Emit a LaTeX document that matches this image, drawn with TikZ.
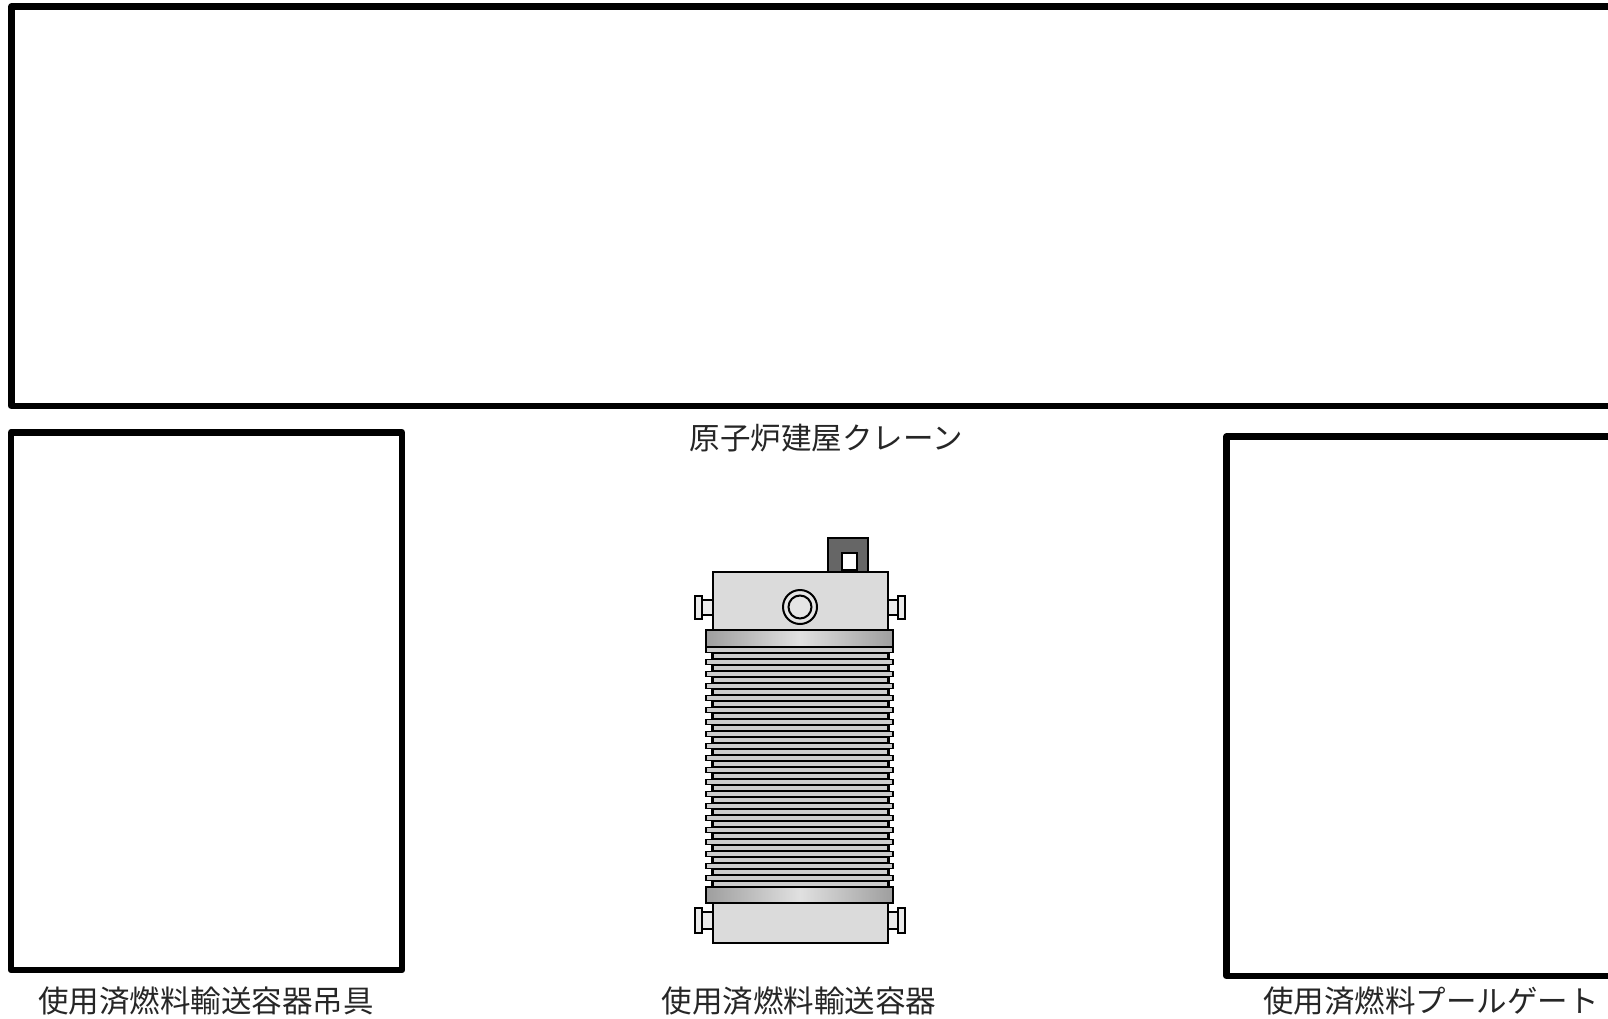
\documentclass[tikz,border=0pt]{standalone}
\usepackage{fontspec}
\setmainfont{Noto Sans CJK JP}
\begin{document}
\begin{tikzpicture}[x=1pt,y=-1pt,
  frame/.style={draw=black,line width=6.5pt,line join=round},
  label/.style={font=\fontsize{30.5}{34}\selectfont,text=black!85,inner sep=0pt},
  metal/.style={draw=black,line width=2.2pt,fill=black!14},
  band/.style={draw=black,line width=2.2pt,left color=black!38,right color=black!38,middle color=black!12},
  fin/.style={draw=black,line width=1.1pt,fill=black!20},
  lug/.style={draw=black,line width=1.5pt,fill=black!60}]
\clip (0,0) rectangle (1608,1019);
\fill[white] (0,0) rectangle (1608,1019);

% equipment frames
\draw[frame] (11.5,6.5) rectangle (1640,406);
\draw[frame] (11,432.5) rectangle (402,970);
\draw[frame] (1226.5,436.5) rectangle (1640,976);

% captions
\node[label] (crane) at (826,438) {原子炉建屋クレーン};
\node[label] (hoist) at (206,1001) {使用済燃料輸送容器吊具};
\node[label] (cask) at (799,1001) {使用済燃料輸送容器};
\node[label] (gate) at (1431,1001) {使用済燃料プールゲート};

% lifting lug
\draw[lug] (828,538) rectangle (868,572);
\draw[draw=black,line width=1.5pt,fill=white] (842,553) rectangle (857,570);

% trunnions
\foreach \yt/\yb in {596/619,908/933}{
  \draw[draw=black,line width=1.6pt,fill=black!8] (702,\yt+4) rectangle (713,\yb-4);
  \draw[draw=black,line width=1.6pt,fill=black!8] (695,\yt) rectangle (702,\yb);
  \draw[draw=black,line width=1.6pt,fill=black!8] (888,\yt+4) rectangle (898,\yb-4);
  \draw[draw=black,line width=1.6pt,fill=black!8] (898,\yt) rectangle (905,\yb);
}

% top and bottom body
\draw[metal] (713,572) rectangle (888,630);
\draw[metal] (713,903) rectangle (888,943);

% lid port
\draw[black,line width=2pt,fill=black!10] (800,607) circle (17);
\draw[black,line width=2pt,fill=black!10] (800,607) circle (11.5);

% cooling fins
\fill[black] (711,647) rectangle (890,887);
\foreach \k in {0,...,19}{
  \draw[fin] (706,{647+12*\k+0.7}) rectangle (893,{647+12*\k+5.3});
  \draw[fin] (713,{653+12*\k+0.7}) rectangle (888,{653+12*\k+5.3});
}

% flanges
\draw[band] (706,630) rectangle (893,647);
\draw[band] (706,887) rectangle (893,903);
\end{tikzpicture}
\end{document}
